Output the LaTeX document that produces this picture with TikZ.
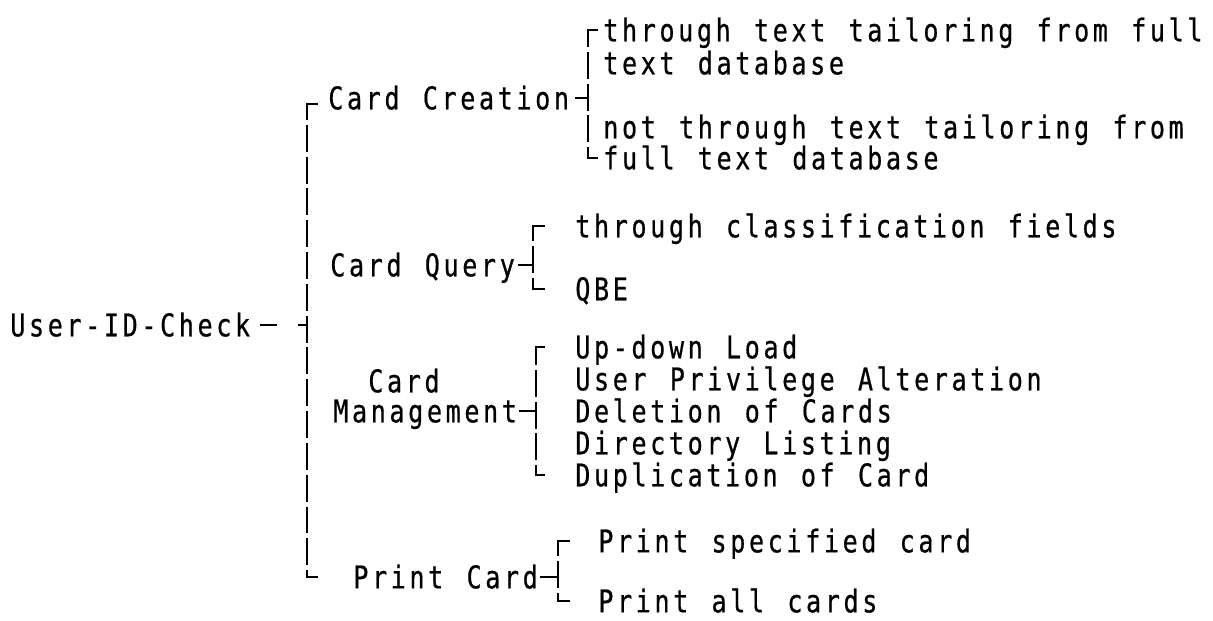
\documentclass[tikz,border=0pt]{standalone}
\usepackage{fontspec}
\usetikzlibrary{calc}
\newfontfamily\treefont[FakeStretch=0.8,LetterSpace=11.7,WordSpace=1.243,FakeBold=0.6]{DejaVu Sans Mono}

\begin{document}
\begin{tikzpicture}[x=0.2mm,y=-0.2mm,font=\treefont\fontsize{17.8}{20}\selectfont,
    lbl/.style={inner sep=0pt,anchor=west,text height=12.9pt,text depth=0pt},
    stem/.style={line width=1.2pt,dash pattern=on 15.3pt off 2.8pt}]

\useasboundingbox (0,0) rectangle (1213,620);

% root and main spine
\node[lbl] (root) at (10,325) {User-ID-Check};

\node[lbl] (cre) at (328,98) {Card Creation};

\node[lbl] (qry) at (330,265) {Card Query};

\node[lbl] (mgmtA) at (368,381) {Card};

\node[lbl] (mgmt) at (333,411) {Management};

\node[lbl] (prt) at (353,577) {Print Card};

\coordinate (spineT) at (307,104);
\coordinate (spineM) at (307,325);
\coordinate (spineB) at (307,577);

\draw[stem] ($(root.east)+(10,0)$) -- ++(17,0);

\draw[stem] ($(spineM)+(-9,0)$) -- (spineM);

\draw[stem] ($(spineT)+(11,0)$) -- (spineT) -- (spineB) -- ++(11,0);

% card creation
\node[lbl] (creA) at (603,30) {through text tailoring from full};

\node[lbl] (creB) at (603,63) {text database};

\node[lbl] (creC) at (603,127) {not through text tailoring from};

\node[lbl] (creD) at (603,158) {full text database};

\draw[stem] ($(cre.east)+(6,0)$) -- ($(creA.west |- cre.east)+(-15,0)$);

\draw[stem] ($(creA.west)+(-5,0)$) -- ($(creA.west)+(-15,0)$)
    -- ($(creD.west)+(-15,0)$) -- ($(creD.west)+(-5,0)$);

% card query
\node[lbl] (qryA) at (575,226) {through classification fields};

\node[lbl] (qryB) at (575,289) {QBE};

\draw[stem] ($(qry.east)+(3,0)$) -- ($(qryA.west |- qry.east)+(-42,0)$);

\draw[stem] ($(qryA.west)+(-30,0)$) -- ($(qryA.west)+(-42,0)$)
    -- ($(qryB.west)+(-42,0)$) -- ($(qryB.west)+(-30,0)$);

% card management
\node[lbl] (mgmtB) at (575,347) {Up-down Load};

\node[lbl] (mgmtC) at (575,379) {User Privilege Alteration};

\node[lbl] (mgmtD) at (575,411) {Deletion of Cards};

\node[lbl] (mgmtE) at (575,443) {Directory Listing};

\node[lbl] (mgmtF) at (575,475) {Duplication of Card};

\draw[stem] ($(mgmt.east)+(2,0)$) -- ($(mgmtB.west |- mgmt.east)+(-39,0)$);

\draw[stem] ($(mgmtB.west)+(-30,0)$) -- ($(mgmtB.west)+(-39,0)$)
    -- ($(mgmtF.west)+(-39,0)$) -- ($(mgmtF.west)+(-30,0)$);

% print card
\node[lbl] (prtA) at (598,541) {Print specified card};

\node[lbl] (prtB) at (598,601) {Print all cards};

\draw[stem] ($(prt.east)+(2,0)$) -- ($(prtA.west |- prt.east)+(-40,0)$);

\draw[stem] ($(prtA.west)+(-28,0)$) -- ($(prtA.west)+(-40,0)$)
    -- ($(prtB.west)+(-40,0)$) -- ($(prtB.west)+(-28,0)$);

\end{tikzpicture}
\end{document}
